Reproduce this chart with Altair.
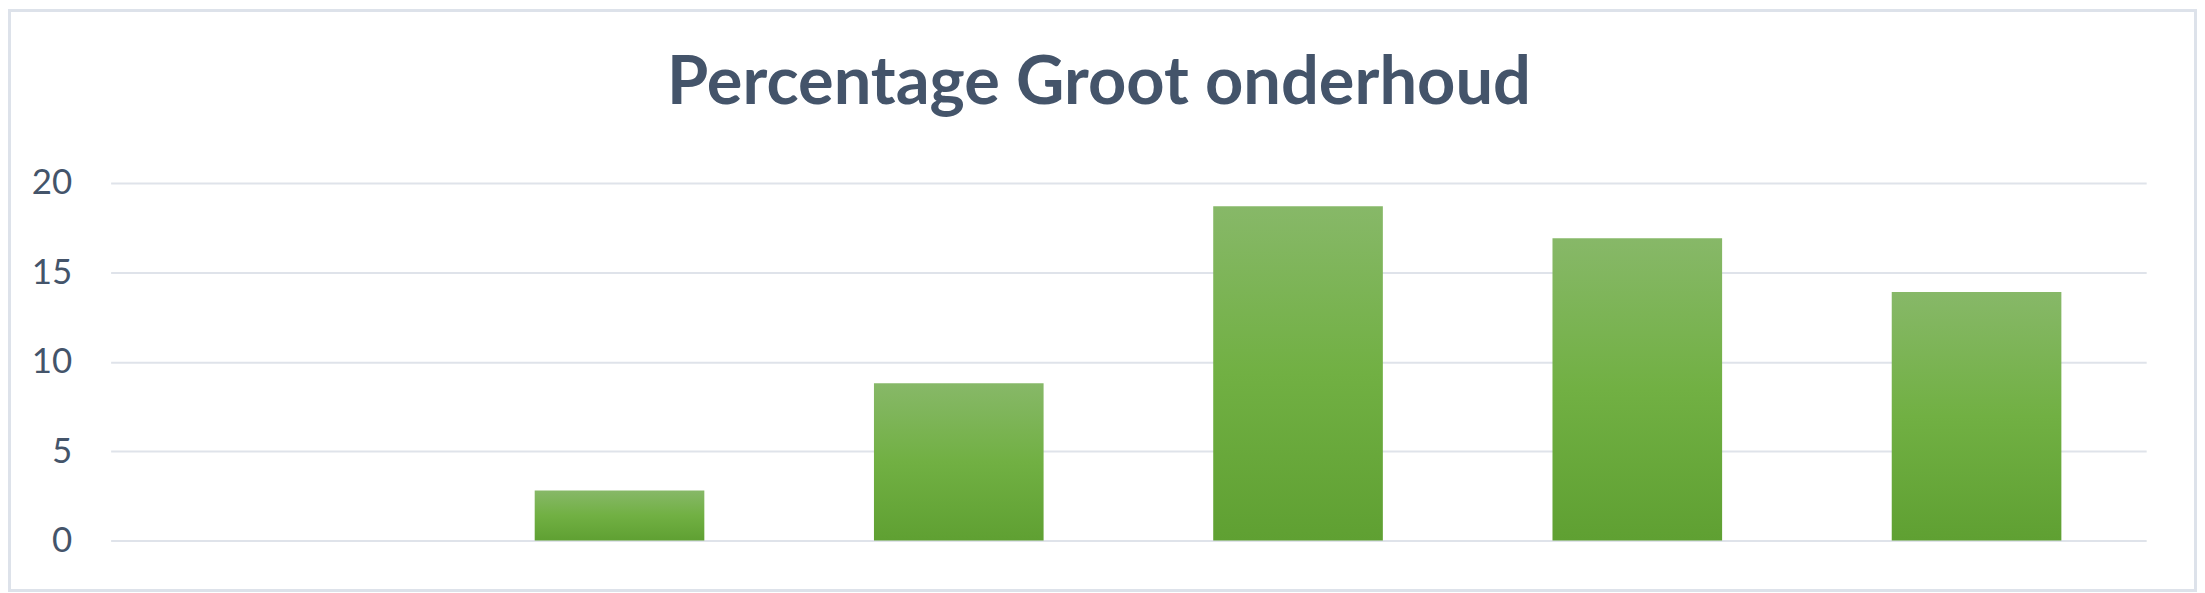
import altair as alt
import pandas as pd

# --- data ---
categories = ["1", "2", "3", "4", "5", "6"]
values = [None, 2.8, 8.8, 18.7, 16.9, 13.9]
y_ticks = [0, 5, 10, 15, 20]
title_text = "Percentage Groot onderhoud"

df = pd.DataFrame({"cat": categories, "value": values})

TEXT_COLOR = "#44546a"
GRID_COLOR = "#dfe3ea"

# plot area geometry
W, H = 2043, 359
PAD = {"left": 103, "top": 174.5, "right": 51, "bottom": 51.5}

gradient = alt.Gradient(
    gradient="linear",
    stops=[
        alt.GradientStop(color="#87b868", offset=0),
        alt.GradientStop(color="#71b043", offset=0.5),
        alt.GradientStop(color="#5fa032", offset=1),
    ],
    x1=0, x2=0, y1=0, y2=1,
)

bars = alt.Chart(df).mark_bar(color=gradient).encode(
    x=alt.X("cat:N", sort=categories,
            scale=alt.Scale(domain=categories, paddingInner=0.5, paddingOuter=0.25),
            axis=None),
    y=alt.Y("value:Q",
            scale=alt.Scale(domain=[0, 20], nice=False),
            axis=alt.Axis(values=y_ticks, title=None, ticks=False, domain=False,
                          labelPadding=39, labelFont="Lato", labelFontSize=35,
                          labelColor=TEXT_COLOR, grid=True, gridColor=GRID_COLOR,
                          gridWidth=2)),
)

title = alt.Chart(alt.Data(values=[{"t": title_text}])).mark_text(
    font="Lato", fontSize=67, fontWeight="bold", color=TEXT_COLOR,
    align="center", baseline="alphabetic",
).encode(x=alt.value(992), y=alt.value(-79.5), text="t:N")

border = alt.Chart(alt.Data(values=[{"b": 1}])).mark_rect(
    filled=False, stroke="#dde2ea", strokeWidth=3
).encode(x=alt.value(-101.5), x2=alt.value(2092.5),
         y=alt.value(-173), y2=alt.value(409))

chart = alt.layer(bars, title, border).properties(
    width=W, height=H,
    padding=PAD,
    autosize=alt.AutoSizeParams(type="none"),
    background="white",
).configure_view(stroke=None)

chart.save("out.html", embed_options={"renderer": "svg", "actions": False})
